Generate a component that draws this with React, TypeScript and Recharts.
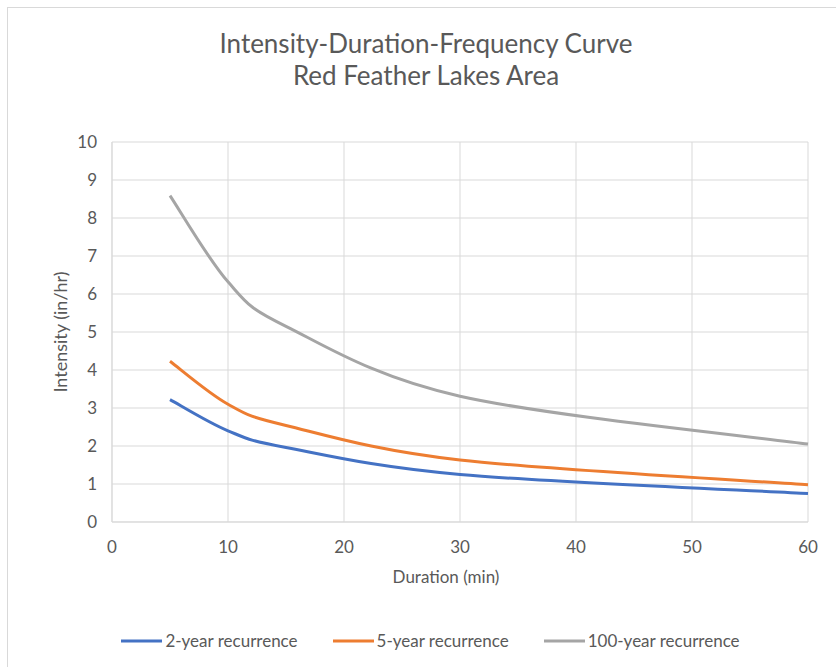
import React from "react";
import { LineChart, Line, XAxis, YAxis, CartesianGrid, Legend } from "recharts";

// durations (min) and intensities (in/hr)
const durations = [5, 10, 15, 30, 60];
const twoYear = [3.22, 2.4, 1.96, 1.25, 0.75];
const fiveYear = [4.23, 3.1, 2.54, 1.63, 0.98];
const hundredYear = [8.59, 6.32, 5.15, 3.31, 2.05];

const xTicks = [0, 10, 20, 30, 40, 50, 60];
const yTicks = [0, 1, 2, 3, 4, 5, 6, 7, 8, 9, 10];

const series = [
  { key: "twoYear", name: "2-year recurrence", color: "#4472C4" },
  { key: "fiveYear", name: "5-year recurrence", color: "#ED7D31" },
  { key: "hundredYear", name: "100-year recurrence", color: "#A5A5A5" },
];

const data = durations.map((d, i) => ({
  duration: d,
  twoYear: twoYear[i],
  fiveYear: fiveYear[i],
  hundredYear: hundredYear[i],
}));

const FONT = "Lato, 'Open Sans', sans-serif";
const TEXT = "#595959";
const GRID = "#D9D9D9";

// Excel style smoothed line (catmull-rom bezier, 1/6 control points)
const excelSmooth = (ctx: any) => {
  let pts: number[][] = [];
  return {
    areaStart() {},
    areaEnd() {},
    lineStart() {
      pts = [];
    },
    point(x: number, y: number) {
      pts.push([+x, +y]);
    },
    lineEnd() {
      if (!pts.length) return;
      ctx.moveTo(pts[0][0], pts[0][1]);
      for (let i = 0; i < pts.length - 1; i++) {
        const p0 = pts[i - 1] || pts[i];
        const p1 = pts[i];
        const p2 = pts[i + 1];
        const p3 = pts[i + 2] || p2;
        ctx.bezierCurveTo(
          p1[0] + (p2[0] - p0[0]) / 6,
          p1[1] + (p2[1] - p0[1]) / 6,
          p2[0] - (p3[0] - p1[0]) / 6,
          p2[1] - (p3[1] - p1[1]) / 6,
          p2[0],
          p2[1]
        );
      }
    },
  };
};

function LegendContent() {
  return (
    <div style={{ display: "flex", justifyContent: "center", fontFamily: FONT, fontSize: 17, color: TEXT }}>
      {series.map((s, i) => (
        <div key={s.key} style={{ display: "flex", alignItems: "center", marginRight: i < series.length - 1 ? 35 : 0 }}>
          <svg width={41} height={10}>
            <line x1={0} y1={5} x2={41} y2={5} stroke={s.color} strokeWidth={3} />
          </svg>
          <span style={{ marginLeft: 3 }}>{s.name}</span>
        </div>
      ))}
    </div>
  );
}

export default function App() {
  return (
    <div style={{ position: "absolute", left: 0, top: 0, width: 836, height: 667, overflow: "hidden", background: "#fff" }}>
      <div style={{ position: "absolute", left: 7, top: 7, width: 900, height: 900, border: `1px solid ${GRID}` }} />
      <div
        style={{
          position: "absolute",
          left: 0,
          top: 27,
          width: 852,
          textAlign: "center",
          fontFamily: FONT,
          fontSize: 26,
          lineHeight: "32px",
          color: TEXT,
        }}
      >
        Intensity-Duration-Frequency Curve
        <br />
        Red Feather Lakes Area
      </div>
      <LineChart width={836} height={667} data={data} margin={{ top: 142, right: 28, bottom: 105, left: 0 }}>
        <CartesianGrid stroke={GRID} strokeWidth={1} />
        <XAxis
          type="number"
          dataKey="duration"
          domain={[0, 60]}
          ticks={xTicks}
          tickLine={false}
          tickSize={0}
          tickMargin={19}
          axisLine={{ stroke: GRID }}
          tick={{ fill: TEXT, fontSize: 17, fontFamily: FONT }}
          height={40}
        />
        <YAxis
          type="number"
          domain={[0, 10]}
          ticks={yTicks}
          width={112}
          tickLine={false}
          tickSize={0}
          tickMargin={15}
          axisLine={{ stroke: GRID }}
          tick={{ fill: TEXT, fontSize: 17, fontFamily: FONT }}
        />
        {series.map((s) => (
          <Line
            key={s.key}
            dataKey={s.key}
            name={s.name}
            type={excelSmooth as any}
            stroke={s.color}
            strokeWidth={3}
            dot={false}
            activeDot={false}
            isAnimationActive={false}
          />
        ))}
        <Legend
          verticalAlign="middle"
          align="center"
          layout="horizontal"
          content={() => <LegendContent />}
          wrapperStyle={{ position: "absolute", left: 0, top: 630, width: 861, height: 22 }}
        />
      </LineChart>
      <div
        style={{
          position: "absolute",
          left: 346,
          top: 566,
          width: 200,
          textAlign: "center",
          fontFamily: FONT,
          fontSize: 17,
          lineHeight: "22px",
          color: TEXT,
        }}
      >
        Duration (min)
      </div>
      <div
        style={{
          position: "absolute",
          left: -40,
          top: 321,
          width: 200,
          textAlign: "center",
          fontFamily: FONT,
          fontSize: 18,
          lineHeight: "22px",
          color: TEXT,
          transform: "rotate(-90deg)",
        }}
      >
        Intensity (in/hr)
      </div>
    </div>
  );
}
